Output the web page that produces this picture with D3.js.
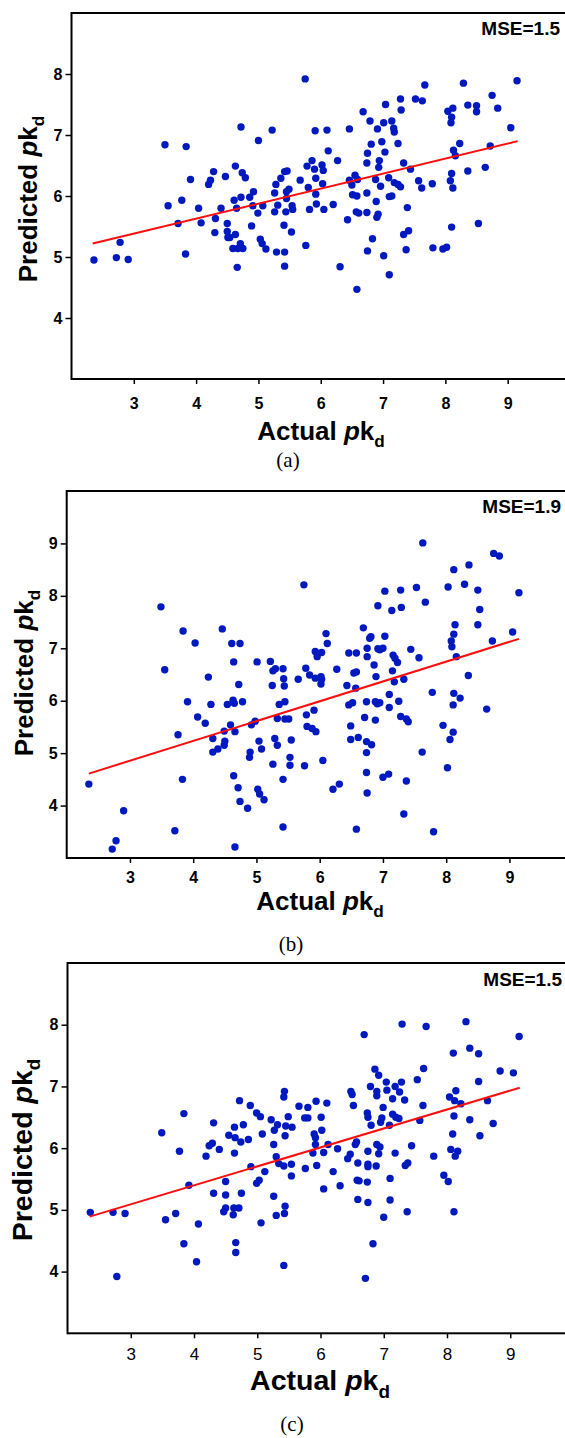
<!DOCTYPE html>
<html>
<head>
<meta charset="utf-8">
<style>
  body { margin: 0; background: #fff; }
  svg { display: block; }
  .tick text { font-family: "Liberation Sans", Arial, sans-serif; fill: #000; }
</style>
<script src="https://cdn.jsdelivr.net/npm/d3@7"></script>
</head>
<body>
<script>
// ---- data ----
var xTicks = [3, 4, 5, 6, 7, 8, 9];
var yTicksA = [4, 5, 6, 7, 8];
var yTicksB = [4, 5, 6, 7, 8, 9];
var yTicksC = [4, 5, 6, 7, 8];
var mseLabels = ["MSE=1.5", "MSE=1.9", "MSE=1.5"];
var captions = ["(a)", "(b)", "(c)"];

// panel (a): actual vs predicted
var pointsA = [
  [2.36,4.95],[2.72,4.99],[2.91,4.96],[2.78,5.24],[3.50,6.84],[3.84,6.81],[3.55,5.84],[3.77,5.93],
  [3.71,5.55],[3.83,5.05],[3.91,6.27],[4.04,5.80],[4.08,5.56],[4.20,6.19],[4.23,6.26],[4.28,6.40],
  [4.31,5.63],[4.30,5.40],[4.40,5.80],[4.47,6.32],[4.50,5.55],[4.50,5.42],[4.51,5.32],[4.54,5.32],
  [4.63,5.37],[4.59,5.14],[4.67,5.14],[4.71,5.22],[4.75,5.14],[4.66,4.83],[4.63,6.49],[4.61,5.93],
  [4.65,5.80],[4.72,7.13],[4.74,6.38],[4.79,6.30],[4.72,5.98],[4.86,5.98],[4.92,6.07],[4.89,5.51],
  [4.91,5.84],[4.99,5.72],[5.00,6.91],[5.03,5.29],[5.06,5.22],[5.07,5.84],[5.12,5.13],[5.22,7.08],
  [5.26,6.05],[5.26,5.74],[5.28,6.19],[5.29,5.08],[5.31,5.85],[5.36,6.29],[5.42,6.40],[5.46,6.41],
  [5.42,5.08],[5.42,4.85],[5.41,5.52],[5.44,5.74],[5.45,6.07],[5.49,6.11],[5.45,5.96],[5.54,5.84],
  [5.55,5.78],[5.53,5.41],[5.67,6.26],[5.76,5.19],[5.75,7.92],[5.78,6.49],[5.80,6.14],[5.82,5.78],
  [5.86,6.58],[5.90,6.44],[5.91,7.07],
  [5.92,6.29],[5.92,6.03],[5.93,5.87],[6.02,6.51],[6.04,6.42],[6.03,6.20],[6.05,5.78],[6.10,7.08],
  [6.12,6.74],[6.20,5.86],[6.27,6.58],[6.31,4.84],[6.43,5.61],[6.46,7.10],[6.46,6.26],[6.55,6.34],
  [6.50,6.18],[6.51,6.02],[6.58,6.00],[6.57,5.74],[6.61,5.72],[6.59,6.27],[6.58,4.47],[6.68,7.38],
  [6.74,5.73],[6.75,5.10],[6.74,6.54],[6.75,6.70],[6.74,6.05],[6.79,7.23],[6.81,6.85],[6.83,5.30],
  [6.88,6.27],[6.89,5.91],[6.90,5.65],[6.92,5.70],[6.91,7.10],[6.94,6.58],[6.93,6.47],[6.96,6.16],
  [6.98,6.89],[7.01,7.20],[7.01,5.02],[7.03,6.72],[7.04,7.50],[7.09,6.30],[7.10,5.99],[7.14,6.00],
  [7.10,4.71],[7.14,7.23],[7.17,7.11],[7.18,7.05],[7.18,6.22],[7.24,6.86],[7.24,6.19],[7.28,6.15],
  [7.28,7.59],[7.29,7.41],[7.33,6.54],[7.37,5.12],[7.33,5.37],[7.39,5.81],[7.41,5.43],[7.44,6.44],
  [7.52,7.59],[7.57,6.25],[7.63,7.56],[7.62,6.13],[7.67,7.82],[7.79,6.20],[7.80,5.15],[7.96,5.13],
  [8.02,5.16],[8.04,7.39],[8.12,7.44],[8.10,7.29],[8.09,7.20],[8.23,6.86],[8.13,6.75],[8.16,6.66],
  [8.08,6.25],[8.10,6.37],[8.12,6.13],[8.10,5.49],[8.29,7.85],[8.36,7.49],[8.36,6.41],[8.50,7.48],
  [8.50,7.38],[8.53,5.55],[8.64,6.47],[8.72,6.82],[8.75,7.65],[8.84,7.44],[9.05,7.12],[9.15,7.89]
];
var fitA = [[2.34,5.22],[9.16,6.90]];

// panel (b)
var pointsB = [
  [2.35,4.41],[2.72,3.17],[2.78,3.33],[2.90,3.90],[3.49,7.79],[3.55,6.59],[3.71,3.52],[3.76,5.35],
  [3.84,7.33],[3.83,4.50],[3.91,5.98],[4.03,7.10],[4.07,5.69],[4.19,5.57],[4.24,6.45],[4.28,5.93],
  [4.31,5.28],[4.31,5.02],[4.39,5.08],[4.46,7.37],[4.49,5.42],[4.50,5.23],[4.49,5.15],[4.54,5.93],
  [4.59,5.54],[4.61,7.09],[4.74,7.09],[4.64,6.74],[4.63,6.01],[4.65,5.95],[4.66,5.41],[4.64,4.57],
  [4.71,4.34],[4.74,4.08],[4.66,3.21],[4.72,6.31],[4.78,5.98],[4.86,3.95],[4.89,4.92],[4.90,5.02],
  [4.92,5.54],[4.98,5.61],[5.01,6.74],[5.02,4.31],[5.05,4.22],[5.12,4.11],[5.04,5.23],[5.08,5.08],
  [5.22,6.75],[5.26,6.57],[5.30,6.61],[5.42,6.61],[5.25,6.29],[5.43,6.42],[5.44,6.28],[5.36,5.93],
  [5.45,5.98],[5.33,5.66],[5.45,5.65],[5.51,5.65],[5.29,5.28],[5.33,5.15],[5.55,5.25],[5.53,4.92],
  [5.53,4.77],[5.26,4.79],[5.42,4.50],[5.42,3.59],[5.66,6.41],[5.75,8.21],[5.78,6.62],[5.84,6.49],
  [5.79,5.73],[5.80,5.51],[5.76,4.76],
  [5.93,6.43],[6.02,6.46],[6.03,6.41],[6.02,6.32],[5.91,5.82],[5.88,5.47],[5.94,5.41],[5.93,6.94],
  [5.96,6.84],[6.03,6.92],[6.10,7.28],[6.12,7.09],[6.05,4.86],[6.21,4.31],[6.31,4.41],[6.27,6.60],
  [6.43,6.29],[6.46,6.91],[6.58,6.91],[6.54,6.53],[6.58,6.55],[6.57,6.24],[6.46,5.92],[6.52,5.96],
  [6.49,5.52],[6.49,5.26],[6.61,5.30],[6.58,3.55],[6.69,7.39],[6.71,5.68],[6.74,5.98],[6.74,5.22],
  [6.82,5.16],[6.74,5.01],[6.74,4.63],[6.75,4.24],[6.75,7.00],[6.79,7.19],[6.81,7.22],[6.75,6.84],
  [6.86,6.68],[6.89,6.46],[6.92,7.81],[7.03,8.09],[6.92,6.99],[6.95,6.97],[7.00,7.00],[7.03,7.23],
  [6.88,5.63],[6.88,5.98],[6.91,5.94],[6.95,5.96],[7.10,6.12],[7.10,5.87],[7.14,7.72],[7.28,8.11],
  [7.29,7.78],[7.16,6.87],[7.19,6.81],[7.23,6.73],[7.15,6.57],[7.18,6.36],[7.33,6.41],[7.25,5.99],
  [7.28,5.70],[7.40,5.60],[7.37,5.65],[7.00,4.54],[7.09,4.60],[7.37,4.47],[7.33,3.84],[7.44,6.98],
  [7.53,8.16],[7.67,7.88],[7.57,6.82],[7.62,5.02],[7.78,6.16],[7.80,3.50],[7.63,9.01],[7.95,5.53],
  [8.03,8.17],[8.02,4.72],[8.12,8.50],[8.14,7.45],[8.12,7.27],[8.08,7.14],[8.09,7.03],[8.16,6.84],
  [8.12,6.14],[8.22,6.05],[8.11,5.92],[8.11,5.40],[8.06,5.26],[8.29,8.22],[8.36,8.59],[8.35,6.48],
  [8.50,8.11],[8.53,7.74],[8.50,7.45],[8.64,5.84],[8.73,7.14],[8.75,8.81],[8.84,8.76],[9.05,7.31],
  [9.15,8.06]
];
var fitB = [[2.35,4.61],[9.15,7.18]];

// panel (c)
var pointsC = [
  [2.36,4.96],[2.72,4.96],[2.91,4.94],[2.78,3.92],[3.49,6.25],[3.55,4.84],[3.71,4.94],[3.77,5.95],
  [3.84,6.56],[3.84,4.45],[3.92,5.40],[4.04,4.16],[4.07,4.77],[4.19,5.87],[4.24,6.04],[4.29,6.08],
  [4.31,6.41],[4.31,5.27],[4.40,5.98],[4.47,4.97],[4.50,5.03],[4.50,5.24],[4.50,5.46],[4.55,6.21],
  [4.62,4.92],[4.63,5.03],[4.71,5.03],[4.64,6.34],[4.65,6.17],[4.64,5.92],[4.72,6.77],[4.75,5.27],
  [4.66,4.47],[4.66,4.31],[4.74,6.10],[4.78,6.38],[4.86,6.14],[4.89,6.69],[4.90,5.70],[4.99,6.57],
  [5.05,6.51],[4.99,5.43],[5.03,5.48],[5.08,6.23],[5.06,4.79],[5.12,5.62],[5.22,6.46],[5.27,6.29],
  [5.32,6.38],[5.26,6.06],[5.26,5.22],[5.30,4.91],[5.30,5.86],[5.34,5.75],[5.42,5.71],[5.43,4.94],
  [5.44,5.06],[5.42,4.10],[5.43,6.92],[5.42,6.83],[5.45,6.36],[5.49,6.51],[5.44,6.20],[5.55,6.34],
  [5.54,5.74],[5.54,5.55],[5.66,6.68],[5.76,5.67],[5.75,6.49],[5.80,6.66],[5.80,6.49],
  [5.93,6.76],[6.01,6.50],[6.10,6.73],[5.90,6.23],[6.02,6.29],[5.92,6.17],[5.92,6.06],[5.88,5.92],
  [6.05,5.93],[6.12,6.06],[5.94,5.72],[6.27,5.99],[6.20,5.62],[6.05,5.34],[6.31,5.39],[6.43,5.83],
  [6.47,5.90],[6.55,6.06],[6.57,6.10],[6.59,5.76],[6.48,6.92],[6.50,6.87],[6.52,6.69],[6.58,5.48],
  [6.61,5.47],[6.59,5.17],[6.74,5.45],[6.75,5.12],[6.83,4.45],[6.71,3.89],[6.69,7.84],[6.75,5.95],
  [6.74,6.57],[6.75,6.50],[6.80,6.37],[6.79,7.00],[6.86,7.28],[6.92,7.18],[6.89,6.92],[6.89,6.85],
  [6.99,6.66],[6.97,6.49],[6.95,6.42],[6.75,5.74],[6.75,5.70],[6.88,5.71],[6.89,6.06],[6.94,6.02],
  [6.92,5.91],[7.04,7.07],[7.05,6.94],[7.09,6.37],[7.14,6.80],[7.18,7.00],[7.28,7.07],[7.25,6.91],
  [7.33,6.78],[7.14,6.55],[7.19,6.50],[7.24,6.48],[7.10,5.51],[7.10,5.16],[7.18,5.92],[7.00,4.88],
  [7.29,8.01],[7.37,4.97],[7.34,5.72],[7.38,5.76],[7.44,6.04],[7.53,7.11],[7.63,7.29],[7.62,6.69],
  [7.57,6.45],[7.67,7.97],[7.79,5.87],[7.95,5.56],[8.02,5.46],[8.04,6.83],[8.10,7.54],[8.14,6.93],
  [8.12,6.77],[8.22,6.72],[8.11,6.52],[8.09,6.23],[8.06,5.98],[8.13,5.87],[8.17,5.95],[8.11,4.97],
  [8.30,8.05],[8.36,7.62],[8.36,6.46],[8.50,7.53],[8.50,7.08],[8.52,6.20],[8.64,6.77],[8.73,6.40],
  [8.84,7.25],[9.05,7.22],[9.14,7.81]
];
var fitC = [[2.35,4.89],[9.15,6.98]];

// ---- drawing ----
var W = 565, H = 1438;
var svg = d3.select("body").append("svg")
  .attr("width", W)
  .attr("height", H);

var sans = '"Liberation Sans", Arial, sans-serif';
var serif = '"Liberation Serif", "Times New Roman", serif';
var dotColor = "#0019bf";

function drawPanel(p) {
  var x = d3.scaleLinear().domain([2, 10]).range([p.left, p.right]);
  var y = d3.scaleLinear().domain(p.yDomain).range([p.bottom, p.top]);
  var g = svg.append("g");

  // x axis
  var ax = g.append("g")
    .attr("transform", "translate(0," + p.bottom + ")")
    .call(d3.axisBottom(x).tickValues(xTicks).tickSize(5).tickSizeOuter(0)
      .tickPadding(p.xPad).tickFormat(d3.format("d")));
  ax.select(".domain").remove();
  ax.selectAll(".tick line").attr("stroke", "#000").attr("stroke-width", 1.5);
  ax.selectAll(".tick text").style("font-size", p.xTickSize + "px")
    .style("font-weight", p.xTickWeight);

  // y axis
  var ay = g.append("g")
    .attr("transform", "translate(" + p.left + ",0)")
    .call(d3.axisLeft(y).tickValues(p.yTicks).tickSize(6).tickSizeOuter(0)
      .tickPadding(3).tickFormat(d3.format("d")));
  ay.select(".domain").remove();
  ay.selectAll(".tick line").attr("stroke", "#000").attr("stroke-width", 1.5);
  ay.selectAll(".tick text").style("font-size", "16px").style("font-weight", "bold");

  // frame
  g.append("rect")
    .attr("x", p.left).attr("y", p.top)
    .attr("width", p.right - p.left).attr("height", p.bottom - p.top)
    .attr("fill", "none").attr("stroke", "#000").attr("stroke-width", 2);

  // points
  g.append("g").selectAll("circle")
    .data(p.points)
    .enter().append("circle")
    .attr("cx", function(d) { return x(d[0]); })
    .attr("cy", function(d) { return y(d[1]); })
    .attr("r", 3.7)
    .attr("fill", dotColor);

  // fit line
  g.append("path")
    .datum(p.fit)
    .attr("d", d3.line().x(function(d) { return x(d[0]); }).y(function(d) { return y(d[1]); }))
    .attr("fill", "none")
    .attr("stroke", "#ff0d0d")
    .attr("stroke-width", 2);

  // MSE note
  g.append("text")
    .attr("x", p.mseX).attr("y", p.mseY)
    .attr("text-anchor", "end")
    .style("font-family", sans).style("font-size", "19px").style("font-weight", "bold")
    .text(p.mse);

  // axis titles
  var xt = g.append("text")
    .attr("x", p.xLabelX).attr("y", p.xLabelY)
    .attr("text-anchor", "middle")
    .style("font-family", sans).style("font-size", p.labelSize + "px").style("font-weight", "bold");
  axisTitle(xt, "Actual ", p.labelSize);

  var yt = g.append("text")
    .attr("transform", "translate(" + p.yLabelX + "," + p.yLabelY + ") rotate(-90)")
    .attr("text-anchor", "middle")
    .style("font-family", sans).style("font-size", p.labelSize + "px").style("font-weight", "bold");
  axisTitle(yt, "Predicted ", p.labelSize);

  // caption
  g.append("text")
    .attr("x", p.capX).attr("y", p.capY)
    .attr("text-anchor", "middle")
    .style("font-family", serif).style("font-size", "21px")
    .text(p.caption);
}

function axisTitle(t, word, size) {
  t.append("tspan").text(word);
  t.append("tspan").style("font-style", "italic").text("p");
  t.append("tspan").text("k");
  t.append("tspan").attr("dy", size * 0.28).style("font-size", (size * 0.66) + "px").text("d");
}

drawPanel({
  points: pointsA, fit: fitA, yTicks: yTicksA, yDomain: [3, 9],
  left: 71.5, right: 570, top: 13, bottom: 379,
  xPad: 14, xTickSize: 16, xTickWeight: "bold",
  mse: mseLabels[0], mseX: 560, mseY: 35,
  labelSize: 26, xLabelX: 321, xLabelY: 440, yLabelX: 37, yLabelY: 199,
  caption: captions[0], capX: 288, capY: 467
});

drawPanel({
  points: pointsB, fit: fitB, yTicks: yTicksB, yDomain: [3, 10],
  left: 66.7, right: 572.7, top: 491, bottom: 858,
  xPad: 9, xTickSize: 16, xTickWeight: "bold",
  mse: mseLabels[1], mseX: 561, mseY: 513,
  labelSize: 26, xLabelX: 320, xLabelY: 910, yLabelX: 33, yLabelY: 673,
  caption: captions[1], capX: 291, capY: 951
});

drawPanel({
  points: pointsC, fit: fitC, yTicks: yTicksC, yDomain: [3, 9],
  left: 67.5, right: 573.5, top: 963, bottom: 1333.3,
  xPad: 10, xTickSize: 17, xTickWeight: "normal",
  mse: mseLabels[2], mseX: 562, mseY: 986,
  labelSize: 28.5, xLabelX: 320, xLabelY: 1390, yLabelX: 32, yLabelY: 1150,
  caption: captions[2], capX: 292, capY: 1431
});
</script>
</body>
</html>
